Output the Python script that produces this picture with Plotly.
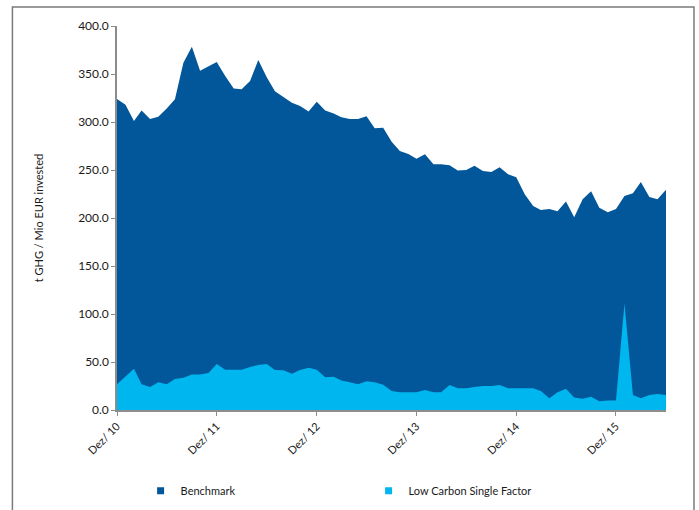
import plotly.graph_objects as go
import pandas as pd

months = pd.date_range("2010-12-01", "2016-06-01", freq="MS")

benchmark = [324, 318, 301, 312, 303, 305.5, 314, 323.6, 361.8, 378.5, 353.4, 358,
             362.5, 348, 335, 334, 342.7, 364.6, 346.5, 332, 325.7, 320, 316.7, 311,
             321, 312, 308.8, 305, 303, 303, 306, 293.4, 294, 279.5, 269.8, 266.7,
             261.8, 266.3, 256, 256, 255, 249.6, 250, 254.5, 249, 248, 252.8, 245.5,
             242.4, 224.7, 212.5, 208.3, 209.4, 207, 217.3, 200.7, 219.5, 227.8, 210.8, 206,
             209.4, 223, 225.7, 237.5, 221.9, 219.5, 229.5]

low_carbon = [26.7, 34.7, 43, 26.7, 24, 29, 26.7, 32.3, 33.7, 37, 37, 38.5,
              48, 42, 42, 42, 44.8, 46.9, 48, 41.7, 41.3, 37.8, 41.7, 44,
              42, 34, 34.7, 30.6, 29, 26.7, 30, 29, 26.4, 19.8, 18.4, 18.4,
              18.4, 20.8, 18.4, 18.4, 26, 22.6, 22.6, 24, 25, 25, 26, 22.6,
              22.6, 22.6, 22.6, 19.8, 12.2, 18.4, 22.2, 12.9, 11.8, 13.9, 9, 10,
              10, 111, 15.6, 12.2, 15.6, 16.7, 15.6]

tick_dates = ["2010-12-01", "2011-12-01", "2012-12-01", "2013-12-01", "2014-12-01", "2015-12-01"]
tick_labels = ["Dez/ 10", "Dez/ 11", "Dez/ 12", "Dez/ 13", "Dez/ 14", "Dez/ 15"]
y_ticks = [0, 50, 100, 150, 200, 250, 300, 350, 400]

C_BENCH = "#02569A"
C_LOW = "#00B6EE"
FONT = "Lato, Open Sans, sans-serif"

fig = go.Figure()
fig.add_trace(go.Scatter(x=months, y=benchmark, mode="lines", fill="tozeroy",
                         line=dict(width=0, color=C_BENCH), fillcolor=C_BENCH,
                         name="Benchmark", showlegend=False))
fig.add_trace(go.Scatter(x=months, y=low_carbon, mode="lines", fill="tozeroy",
                         line=dict(width=0, color=C_LOW), fillcolor=C_LOW,
                         name="Low Carbon Single Factor", showlegend=False))
# legend entries
fig.add_trace(go.Scatter(x=[None], y=[None], mode="markers", name="Benchmark",
                         marker=dict(symbol="square", size=7, color=C_BENCH)))
fig.add_trace(go.Scatter(x=[None], y=[None], mode="markers", name="Low Carbon Single Factor",
                         marker=dict(symbol="square", size=7, color=C_LOW)))

fig.update_layout(
    width=699, height=510,
    margin=dict(l=117, r=33, t=26, b=100, autoexpand=False),
    paper_bgcolor="white", plot_bgcolor="white",
    font=dict(family=FONT, size=12, color="#1a1a1a"),
    showlegend=True,
    legend=dict(orientation="h", x=0.043, xanchor="left", y=-0.21, yanchor="middle",
                font=dict(size=11, family=FONT, color="#1a1a1a"),
                itemwidth=30, entrywidth=183, entrywidthmode="pixels",
                bgcolor="rgba(0,0,0,0)"),
    xaxis=dict(range=[months[0], months[-1]], tickvals=tick_dates, ticktext=tick_labels,
               tickangle=-45, showgrid=False, zeroline=False, showline=True,
               linecolor="#8c8c8c", linewidth=1.5, ticks="outside", ticklen=4,
               tickcolor="#8c8c8c", tickfont=dict(size=11, family=FONT, color="#1a1a1a")),
    yaxis=dict(range=[0, 400], tickvals=y_ticks, ticktext=[f"{v:.1f}" for v in y_ticks],
               showgrid=False, zeroline=False, showline=True, linecolor="#8c8c8c",
               linewidth=1.5, ticks="outside", ticklen=4, tickcolor="#8c8c8c",
               tickfont=dict(size=12, family=FONT, color="#1a1a1a"),
               title=dict(text="t GHG / Mio EUR invested", standoff=32,
                          font=dict(size=11, family=FONT, color="#1a1a1a"))),
    shapes=[dict(type="rect", xref="paper", yref="paper",
                 x0=-0.1905, x1=1.051, y0=-0.4, y1=1.0495,
                 line=dict(color="#7a7a7a", width=1.5), fillcolor="rgba(0,0,0,0)",
                 layer="below")],
)

fig.write_html("out.html")
